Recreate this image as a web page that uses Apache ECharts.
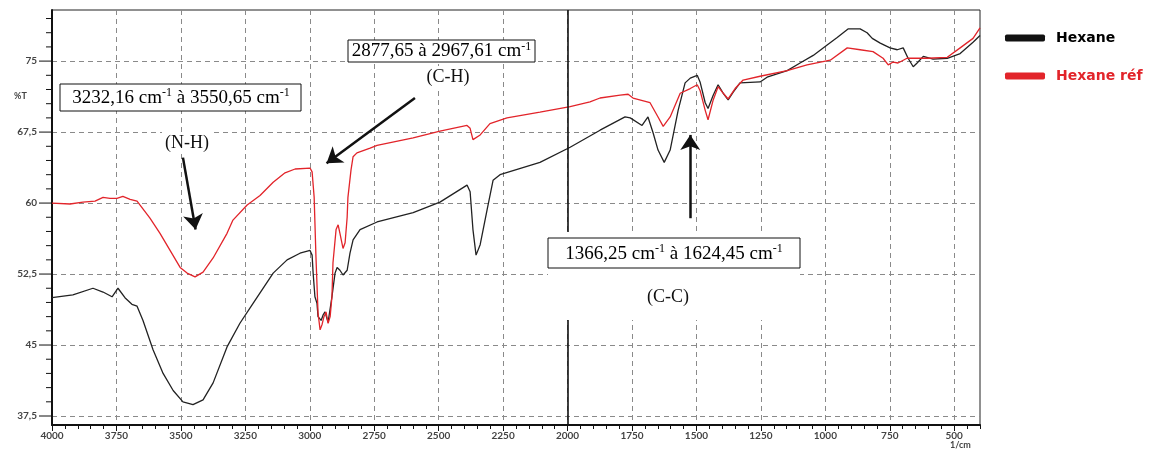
<!DOCTYPE html>
<html>
<head>
<meta charset="utf-8">
<script src="https://cdn.jsdelivr.net/npm/echarts@6/dist/echarts.min.js"></script>
<style>
  html, body { margin: 0; padding: 0; background: #fff; }
  #chart { width: 1161px; height: 453px; }
</style>
</head>
<body>
<div id="chart"></div>
<script>
// FTIR spectra: wavenumber (cm-1) and transmittance (%T)
const hexaneWavenumber = [4000,3919,3841,3802,3767,3744,3717,3690,3670,3647,3608,3569,3530,3492,3453,3414,3375,3321,3271,3220,3142,3088,3038,2999,2991,2987,2980,2972,2968,2956,2948,2941,2929,2914,2902,2894,2883,2871,2855,2844,2832,2805,2739,2599,2495,2390,2378,2367,2355,2339,2312,2289,2262,2107,1990,1874,1777,1757,1711,1688,1668,1649,1625,1602,1571,1544,1524,1497,1486,1466,1455,1435,1416,1396,1377,1358,1331,1253,1226,1148,1098,1047,993,954,912,865,838,818,787,749,721,698,679,659,644,620,582,527,477,427,400];
const hexaneT = [50.0,50.3,51.0,50.6,50.1,51.0,50.0,49.3,49.1,47.6,44.5,42.0,40.2,39.0,38.7,39.2,41.0,44.8,47.3,49.4,52.6,54.0,54.7,55.0,54.5,52.6,50.1,49.4,48.0,47.6,48.2,48.5,47.4,50.1,52.6,53.2,52.9,52.4,52.9,54.7,56.1,57.2,58.0,59.0,60.1,61.9,61.2,57.2,54.5,55.6,59.3,62.4,63.0,64.3,65.9,67.7,69.1,69.0,68.2,69.1,67.4,65.6,64.3,65.6,69.8,72.7,73.2,73.5,72.8,70.6,70.0,71.4,72.5,71.6,70.9,71.7,72.7,72.8,73.3,74.0,74.8,75.6,76.7,77.5,78.4,78.4,78.0,77.4,76.9,76.4,76.2,76.4,75.3,74.4,74.8,75.5,75.2,75.3,75.8,77.0,77.7];

const refWavenumber = [4000,3930,3880,3833,3802,3775,3748,3725,3697,3670,3659,3620,3581,3542,3503,3476,3445,3414,3375,3321,3298,3243,3193,3142,3096,3057,2999,2991,2983,2976,2968,2960,2952,2945,2937,2929,2921,2914,2910,2898,2890,2883,2871,2863,2855,2852,2840,2832,2817,2766,2739,2599,2495,2390,2378,2367,2339,2301,2235,2107,1990,1913,1874,1796,1765,1746,1680,1649,1629,1602,1563,1524,1497,1486,1466,1455,1435,1416,1396,1377,1350,1319,1253,1148,1071,981,915,865,815,776,756,737,718,683,605,527,477,427,400];
const refT = [60.0,59.9,60.1,60.2,60.6,60.5,60.5,60.7,60.4,60.2,59.8,58.4,56.8,55.0,53.2,52.6,52.2,52.7,54.2,56.8,58.2,59.8,60.8,62.2,63.2,63.6,63.7,63.3,60.6,54.3,48.4,46.6,47.2,48.0,48.5,47.3,48.0,50.1,53.7,57.2,57.7,56.8,55.2,55.8,58.5,60.6,63.5,64.9,65.3,65.8,66.1,66.9,67.6,68.2,67.9,66.7,67.2,68.4,69.0,69.6,70.2,70.7,71.1,71.4,71.5,71.1,70.6,69.1,68.1,69.1,71.6,72.1,72.5,71.9,69.8,68.8,70.9,72.3,71.6,71.0,72.1,73.0,73.4,74.0,74.6,75.1,76.4,76.2,76.0,75.3,74.6,74.9,74.8,75.3,75.3,75.4,76.4,77.4,78.5];

// Axis ticks
const xTickLabels = [4000,3750,3500,3250,3000,2750,2500,2250,2000,1750,1500,1250,1000,750,500];
const yTickLabels = [37.5,45,52.5,60,67.5,75];
const X_MIN = 400, X_MAX = 4000, Y_MIN = 36.55, Y_MAX = 80.4;

// Minor tick positions between the labelled ticks
const xMinorTicks = [];
for (let v = 4000; v >= 400; v -= 50) xMinorTicks.push(v);
const yMinorTicks = [];
for (let v = 37.5; v <= 80; v += 1.5) yMinorTicks.push(+v.toFixed(2));

const zip = (xs, ys) => xs.map((x, i) => [x, ys[i]]);

const RED = '#e2242a';
const serif = '"Liberation Serif", "Times New Roman", serif';
const tickFont = { fontFamily: 'Lato, sans-serif', fontSize: 10, fontWeight: 'bold', color: '#444' };

const chart = echarts.init(document.getElementById('chart'), null, { renderer: 'canvas' });

// Annotation text with "cm-1" superscripts
const rich = {
  a: { fontFamily: serif, fontSize: 19, color: '#111', lineHeight: 22 },
  s: { fontFamily: serif, fontSize: 12, color: '#111', lineHeight: 22, verticalAlign: 'top', padding: [0, 0, 9, 0] }
};

// Tick marks on the %T axis, drawn outward from the left edge of the plot
function renderYTick(params, api) {
  const v = api.value(1);
  const p = api.coord([X_MAX, v]);
  const len = yTickLabels.indexOf(v) >= 0 ? 13 : 6;
  return {
    type: 'line',
    shape: { x1: p[0] - len, y1: p[1], x2: p[0], y2: p[1] },
    style: { stroke: '#111', lineWidth: 1 }
  };
}

chart.setOption({
  animation: false,
  grid: { left: 52, right: 181, top: 10, bottom: 28, show: true, borderColor: '#222', borderWidth: 1, backgroundColor: 'transparent' },
  legend: {
    orient: 'vertical', left: 1000, top: 26, itemGap: 24,
    itemWidth: 40, itemHeight: 7, icon: 'roundRect',
    textStyle: { fontFamily: '"DejaVu Sans", sans-serif', fontWeight: 'bold', fontSize: 14, padding: [0, 0, 0, 6] },
    data: [
      { name: 'Hexane', textStyle: { color: '#000' } },
      { name: 'Hexane réf', textStyle: { color: RED } }
    ]
  },
  xAxis: [
    {
      type: 'value', min: X_MIN, max: X_MAX, inverse: true,
      axisLine: { lineStyle: { color: '#111', width: 2 } },
      axisTick: { customValues: xTickLabels, length: 6, lineStyle: { color: '#111' } },
      axisLabel: { customValues: xTickLabels, margin: 6, ...tickFont, formatter: v => String(v) },
      splitLine: { show: true, lineStyle: { color: '#8a8a8a', type: [5, 4], width: 1 } }
    },
    {
      type: 'value', min: X_MIN, max: X_MAX, inverse: true, position: 'bottom', offset: 0,
      axisLine: { show: false },
      axisTick: { show: true, customValues: xMinorTicks, length: 4, lineStyle: { color: '#111' } },
      axisLabel: { show: false },
      splitLine: { show: false }
    }
  ],
  yAxis: {
    type: 'value', min: Y_MIN, max: Y_MAX,
    axisLine: { show: true, onZero: false, lineStyle: { color: '#111', width: 2 } },
    axisTick: { show: false, customValues: yTickLabels },
    axisLabel: {
      customValues: yTickLabels, margin: 15, ...tickFont,
      formatter: v => String(v).replace('.', ',')
    },
    splitLine: { show: true, lineStyle: { color: '#8a8a8a', type: [5, 4], width: 1 } }
  },
  series: [
    {
      name: 'Hexane', type: 'line', data: zip(hexaneWavenumber, hexaneT),
      showSymbol: false, color: '#111', lineStyle: { width: 1.3, color: '#222' }, z: 3,
      markLine: {
        silent: true, animation: false,
        symbol: ['none', 'arrow'], symbolSize: 15,
        label: { show: false },
        lineStyle: { color: '#111', width: 2.5, type: 'solid' },
        data: [
          [{ coord: [3492, 64.8] }, { coord: [3443, 57.2] }],
          [{ coord: [2592, 71.1] }, { coord: [2935, 64.2] }],
          [{ coord: [1524, 58.4] }, { coord: [1524, 67.2] }]
        ]
      }
    },
    {
      name: 'Hexane réf', type: 'line', data: zip(refWavenumber, refT),
      showSymbol: false, color: RED, lineStyle: { width: 1.3, color: RED }, z: 4,
      markLine: {
        silent: true, animation: false,
        symbol: ['none', 'none'],
        label: { show: false },
        lineStyle: { color: '#111', width: 1.6, type: 'solid' },
        data: [{ xAxis: 2000 }]
      }
    },
    {
      name: 'yTicks', type: 'custom', clip: false, silent: true, z: 5,
      data: yMinorTicks.map(v => [X_MAX, v]),
      renderItem: renderYTick
    }
  ],
  graphic: [
    { type: 'text', left: 14, top: 92, z: 50, style: { text: '%T', font: 'bold 9px Lato, sans-serif', fill: '#444' } },
    { type: 'text', left: 950, top: 441, z: 50, style: { text: '1/cm', font: 'bold 9px Lato, sans-serif', fill: '#444' } },

    // N-H band
    { type: 'rect', z: 100, shape: { x: 60, y: 84, width: 241, height: 27 }, style: { fill: '#fff', stroke: '#111', lineWidth: 1 } },
    { type: 'text', z: 101, x: 181, y: 98, style: { text: '{a|3232,16 cm}{s|-1}{a| à 3550,65 cm}{s|-1}', rich, align: 'center', verticalAlign: 'middle' } },
    { type: 'text', z: 101, x: 187, y: 143, style: { text: '(N-H)', font: '18px ' + serif, fill: '#111', align: 'center', verticalAlign: 'middle', backgroundColor: '#fff', padding: [2, 3] } },

    // C-H band
    { type: 'rect', z: 100, shape: { x: 348, y: 40, width: 187, height: 22 }, style: { fill: '#fff', stroke: '#111', lineWidth: 1 } },
    { type: 'text', z: 101, x: 441.5, y: 51.5, style: { text: '{a|2877,65 à 2967,61 cm}{s|-1}', rich, align: 'center', verticalAlign: 'middle' } },
    { type: 'text', z: 101, x: 448, y: 77, style: { text: '(C-H)', font: '18px ' + serif, fill: '#111', align: 'center', verticalAlign: 'middle', backgroundColor: '#fff', padding: [2, 3] } },

    // C-C band
    { type: 'rect', z: 99, shape: { x: 548, y: 232, width: 252, height: 88 }, style: { fill: '#fff' } },
    { type: 'rect', z: 100, shape: { x: 548, y: 238, width: 252, height: 30 }, style: { fill: '#fff', stroke: '#111', lineWidth: 1 } },
    { type: 'text', z: 101, x: 674, y: 254, style: { text: '{a|1366,25 cm}{s|-1}{a| à 1624,45 cm}{s|-1}', rich, align: 'center', verticalAlign: 'middle' } },
    { type: 'text', z: 101, x: 668, y: 297, style: { text: '(C-C)', font: '18px ' + serif, fill: '#111', align: 'center', verticalAlign: 'middle' } }
  ]
});
</script>
</body>
</html>
